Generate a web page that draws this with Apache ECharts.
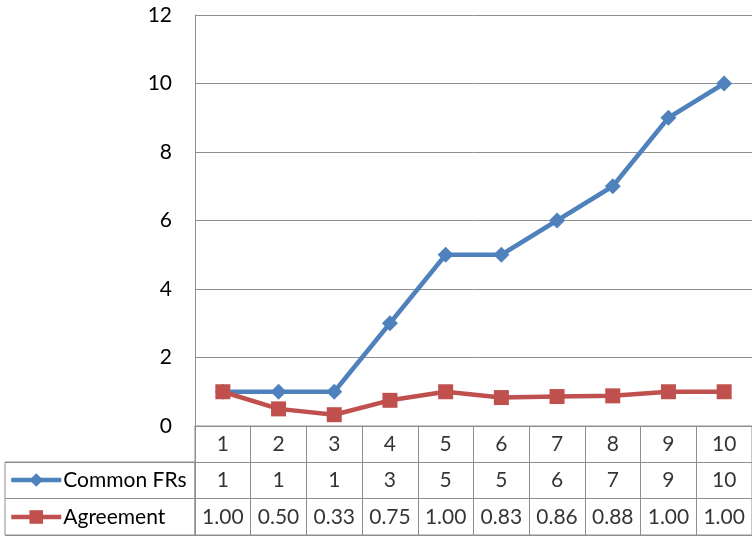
<!DOCTYPE html>
<html>
<head>
<meta charset="utf-8">
<script src="https://cdn.jsdelivr.net/npm/echarts@6/dist/echarts.min.js"></script>
<style>
  html, body { margin: 0; padding: 0; background: #fff; }
  #chart { width: 752px; height: 537px; }
</style>
</head>
<body>
<div id="chart"></div>
<script>
// Category labels and series values
var categories = ['1', '2', '3', '4', '5', '6', '7', '8', '9', '10'];
var commonFRs = [1, 1, 1, 3, 5, 5, 6, 7, 9, 10];
var agreement = [1.00, 0.50, 0.33, 0.75, 1.00, 0.83, 0.86, 0.88, 1.00, 1.00];
var yTicks = [0, 2, 4, 6, 8, 10, 12];

var FONT = 'Lato';
var FONT_SIZE = 21;
var GRID_COLOR = '#8e8e8e';
var BLUE = '#4f81bd';
var RED = '#c0504d';

// Data table cells: row 0 = categories, row 1 = Common FRs, row 2 = Agreement
var tableCells = [];
categories.forEach(function (c, i) {
  tableCells.push([i, 0, c]);
  tableCells.push([i, 1, String(commonFRs[i])]);
  tableCells.push([i, 2, agreement[i].toFixed(2)]);
});

var chart = echarts.init(document.getElementById('chart'), null, { renderer: 'canvas' });

chart.setOption({
  animation: false,
  backgroundColor: '#fff',
  textStyle: { fontFamily: FONT },
  legend: {
    orient: 'vertical',
    left: 9,
    top: 468,
    padding: 0,
    itemWidth: 50,
    itemHeight: 17,
    itemGap: 13,
    lineStyle: { width: 4.5 },
    textStyle: { fontFamily: FONT, fontSize: FONT_SIZE, color: '#000', lineHeight: 24, padding: [0, 0, 0, -3] },
    data: ['Common FRs', 'Agreement']
  },
  grid: [
    // plot area
    { left: 195, top: 15, width: 563, height: 411, show: false },
    // data table
    { left: 195, top: 426, width: 563, height: 109, show: true, borderColor: GRID_COLOR, borderWidth: 1, backgroundColor: 'transparent' },
    // legend column of the data table
    { left: 5, top: 462, width: 190, height: 73, show: true, borderColor: GRID_COLOR, borderWidth: 1, backgroundColor: 'transparent' }
  ],
  xAxis: [
    {
      gridIndex: 0, type: 'category', data: categories, boundaryGap: true,
      axisLine: { show: true, lineStyle: { color: GRID_COLOR, width: 1 } },
      axisTick: { show: false }, axisLabel: { show: false }, splitLine: { show: false }
    },
    {
      gridIndex: 1, type: 'category', data: categories, boundaryGap: true,
      axisLine: { show: false }, axisTick: { show: false }, axisLabel: { show: false },
      splitLine: { show: true, interval: 0, lineStyle: { color: GRID_COLOR, width: 1 } }
    },
    {
      gridIndex: 2, type: 'value', min: 0, max: 1,
      axisLine: { show: false }, axisTick: { show: false }, axisLabel: { show: false }, splitLine: { show: false }
    }
  ],
  yAxis: [
    {
      gridIndex: 0, type: 'value', min: 0, max: 12, interval: 2,
      axisLine: { show: true, lineStyle: { color: GRID_COLOR, width: 1 } },
      axisTick: { show: false },
      axisLabel: { fontFamily: FONT, fontSize: FONT_SIZE, color: '#000', margin: 23,
        formatter: function (v) { return yTicks.indexOf(v) >= 0 ? String(v) : ''; } },
      splitLine: { show: true, lineStyle: { color: GRID_COLOR, width: 1 } }
    },
    {
      gridIndex: 1, type: 'category', data: ['r0', 'r1', 'r2'], inverse: true, boundaryGap: true,
      axisLine: { show: false }, axisTick: { show: false }, axisLabel: { show: false },
      splitLine: { show: true, interval: 0, lineStyle: { color: GRID_COLOR, width: 1 } }
    },
    {
      gridIndex: 2, type: 'category', data: ['a', 'b'], boundaryGap: true,
      axisLine: { show: false }, axisTick: { show: false }, axisLabel: { show: false },
      splitLine: { show: true, interval: 0, lineStyle: { color: GRID_COLOR, width: 1 } }
    }
  ],
  series: [
    {
      name: 'Common FRs', type: 'line', xAxisIndex: 0, yAxisIndex: 0,
      data: commonFRs,
      symbol: 'diamond', symbolSize: 16, showAllSymbol: true,
      lineStyle: { color: BLUE, width: 4.5 },
      itemStyle: { color: BLUE, borderWidth: 0 },
      z: 3
    },
    {
      name: 'Agreement', type: 'line', xAxisIndex: 0, yAxisIndex: 0,
      data: agreement,
      symbol: 'rect', symbolSize: 15, showAllSymbol: true,
      lineStyle: { color: RED, width: 4.5 },
      itemStyle: { color: RED, borderWidth: 0 },
      z: 4
    },
    {
      name: 'table', type: 'scatter', xAxisIndex: 1, yAxisIndex: 1,
      data: tableCells, symbolSize: 1,
      itemStyle: { color: 'rgba(0,0,0,0)' },
      label: {
        show: true, position: 'inside', fontFamily: FONT, fontSize: FONT_SIZE, color: '#000',
        formatter: function (p) { return p.value[2]; }
      },
      silent: true
    }
  ]
});
</script>
</body>
</html>
